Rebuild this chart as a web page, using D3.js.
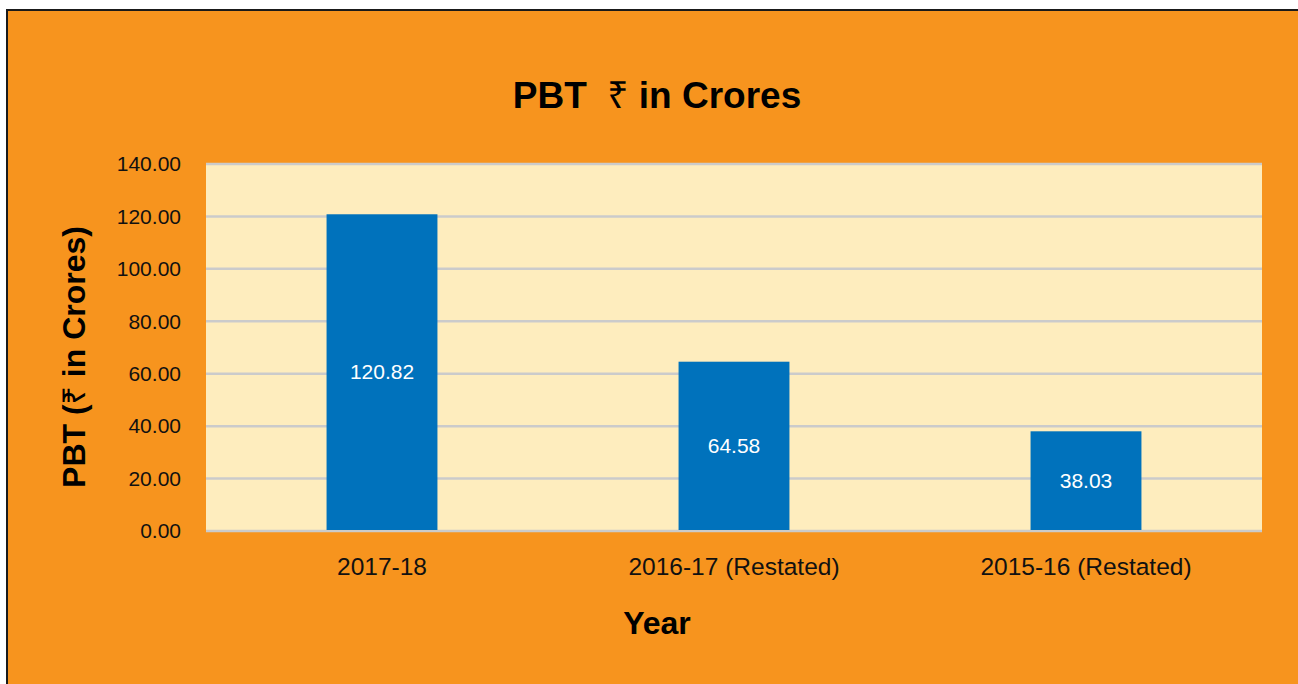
<!DOCTYPE html>
<html>
<head>
<meta charset="utf-8">
<script src="https://cdn.jsdelivr.net/npm/d3@7"></script>
<style>
  html, body { margin: 0; padding: 0; background: #fff; }
  svg { display: block; font-family: Arial, "Liberation Sans", "Noto Sans", sans-serif; }
</style>
</head>
<body>
<div id="chart"></div>
<script>
const categories = ['2017-18', '2016-17 (Restated)', '2015-16 (Restated)'];
const pbtValues = [120.82, 64.58, 38.03];
const yTicks = [0, 20, 40, 60, 80, 100, 120, 140];

const width = 1298;
const height = 684;
const plot = { left: 206, right: 1262, top: 164, bottom: 531 };

const svg = d3.select('#chart')
  .append('svg')
  .attr('width', width)
  .attr('height', height);

// orange frame with black edge on top/left
svg.append('rect')
  .attr('x', 7)
  .attr('y', 10)
  .attr('width', width)
  .attr('height', height)
  .attr('fill', '#f7941e')
  .attr('stroke', '#1a1a1a')
  .attr('stroke-width', 2);

svg.append('rect')
  .attr('x', plot.left)
  .attr('y', plot.top)
  .attr('width', plot.right - plot.left)
  .attr('height', plot.bottom - plot.top)
  .attr('fill', '#feedbe');

const xScale = d3.scaleBand()
  .domain(categories)
  .range([plot.left, plot.right])
  .paddingInner(0.685)
  .paddingOuter(0.3425);

const yScale = d3.scaleLinear()
  .domain([0, 140])
  .range([plot.bottom, plot.top]);

// gridlines
svg.append('g')
  .selectAll('line')
  .data(yTicks)
  .enter()
  .append('line')
  .attr('x1', plot.left)
  .attr('x2', plot.right)
  .attr('y1', d => yScale(d))
  .attr('y2', d => yScale(d))
  .attr('stroke', '#cbcbcb')
  .attr('stroke-width', 2.5);

// y axis labels
const yAxis = svg.append('g')
  .attr('transform', `translate(${plot.left - 25},0)`)
  .call(d3.axisLeft(yScale).tickValues(yTicks).tickFormat(d3.format('.2f')).tickSize(0).tickPadding(0));
yAxis.select('.domain').remove();
yAxis.selectAll('text')
  .attr('fill', '#111')
  .style('font-size', '21px')
  .style('font-family', 'Arial, "Liberation Sans", sans-serif');

// bars
svg.append('g')
  .selectAll('rect')
  .data(pbtValues)
  .enter()
  .append('rect')
  .attr('x', (d, i) => xScale(categories[i]))
  .attr('y', d => yScale(d))
  .attr('width', xScale.bandwidth())
  .attr('height', d => plot.bottom - yScale(d) - 1)
  .attr('fill', '#0072bc');

// values inside bars
svg.append('g')
  .selectAll('text')
  .data(pbtValues)
  .enter()
  .append('text')
  .attr('text-anchor', 'middle')
  .attr('x', (d, i) => xScale(categories[i]) + xScale.bandwidth() / 2)
  .attr('y', d => (yScale(d) + plot.bottom) / 2 - 1)
  .attr('dy', '0.35em')
  .attr('fill', '#fff')
  .style('font-size', '21px')
  .text(d => d.toFixed(2));

// x axis labels
const xAxis = svg.append('g')
  .attr('transform', `translate(0,${plot.bottom + 27})`)
  .call(d3.axisBottom(xScale).tickSize(0).tickPadding(0));
xAxis.select('.domain').remove();
xAxis.selectAll('text')
  .attr('fill', '#111')
  .attr('dy', '0.71em')
  .style('font-size', '24.5px')
  .style('font-family', 'Arial, "Liberation Sans", sans-serif');

// titles
const title = svg.append('text')
  .attr('x', 657)
  .attr('y', 108)
  .attr('text-anchor', 'middle')
  .attr('xml:space', 'preserve')
  .style('white-space', 'pre')
  .style('font-size', '37px')
  .style('font-weight', 'bold');
title.append('tspan').text('PBT  ');
title.append('tspan').style('font-weight', 'normal').text('₹');
title.append('tspan').text(' in Crores');

const yTitle = svg.append('text')
  .attr('transform', 'translate(85,357) rotate(-90)')
  .attr('text-anchor', 'middle')
  .style('font-size', '32px')
  .style('font-weight', 'bold');
yTitle.append('tspan').text('PBT (');
yTitle.append('tspan').style('font-weight', 'normal').text('₹');
yTitle.append('tspan').text(' in Crores)');

svg.append('text')
  .attr('x', 657)
  .attr('y', 634)
  .attr('text-anchor', 'middle')
  .style('font-size', '32px')
  .style('font-weight', 'bold')
  .text('Year');
</script>
</body>
</html>
